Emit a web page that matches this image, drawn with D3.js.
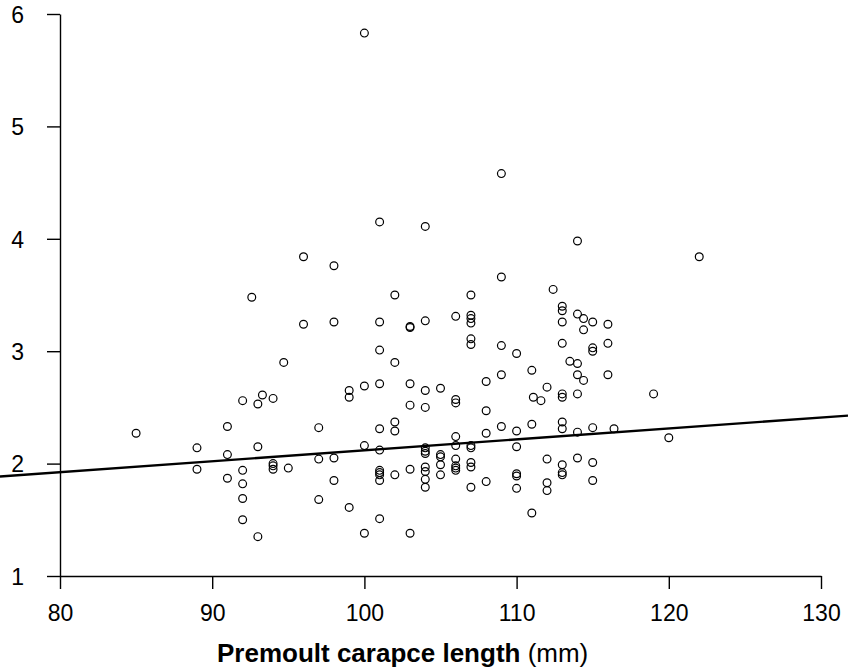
<!DOCTYPE html>
<html>
<head>
<meta charset="utf-8">
<script src="https://cdn.jsdelivr.net/npm/d3@7"></script>
<style>
  html, body { margin: 0; padding: 0; background: #fff; }
  svg { display: block; }
  text { font-family: "Liberation Sans", Arial, sans-serif; fill: #000; }
</style>
</head>
<body>
<svg id="chart" width="848" height="671"></svg>
<script>
// Axis ticks
const xTicks = [80, 90, 100, 110, 120, 130];
const yTicks = [1, 2, 3, 4, 5, 6];

// Premoult carapace length (mm) of each animal
const carapaceLength = [
  100, 109, 101, 104, 114, 122, 96, 98, 109, 112.4, 92.6, 102, 107,
  98, 101, 103, 103, 104, 106, 107, 107, 107, 113, 113, 113, 114, 114.4, 115, 116, 114.4, 96,
  107, 107, 109, 110, 101, 113, 115, 115, 116, 113.5, 114, 94.7, 102, 111, 109, 108, 114, 114.4, 116,
  112, 111.1, 111.6, 113, 113, 114, 119, 99, 99, 100, 101, 103, 104, 105, 106, 106, 103, 104, 108,
  92, 93.3, 94, 93,
  85, 91, 89, 91, 93, 89, 91, 92, 92, 92, 92, 93, 94, 94, 94, 95, 97, 97, 97,
  98, 98, 99, 100, 100, 101, 101, 101, 101, 101, 101, 101, 102, 102, 102, 103, 103,
  104, 104, 104, 104, 104, 104, 104, 105, 105, 105, 105, 106, 106, 106, 106, 106, 106,
  107, 107, 107, 107, 107, 108, 108, 109, 110, 110, 110, 110, 110, 111, 111, 112, 112, 112,
  113, 113, 114, 115, 116.4, 120, 114, 115, 113, 113, 113, 115
];

// Measured response for each animal (same order)
const response = [
  5.83, 4.58, 4.15, 4.11, 3.98, 3.84, 3.84, 3.76, 3.66, 3.55, 3.48, 3.50, 3.50,
  3.26, 3.26, 3.22, 3.21, 3.27, 3.31, 3.32, 3.29, 3.25, 3.40, 3.36, 3.26, 3.33, 3.29, 3.26, 3.24, 3.19, 3.24,
  3.11, 3.06, 3.05, 2.98, 3.01, 3.07, 3.03, 3.00, 3.07, 2.91, 2.89, 2.90, 2.90, 2.83, 2.79, 2.73, 2.79, 2.74, 2.79,
  2.68, 2.59, 2.56, 2.62, 2.59, 2.62, 2.62, 2.65, 2.59, 2.69, 2.71, 2.71, 2.65, 2.67, 2.57, 2.54, 2.52, 2.50, 2.47,
  2.56, 2.61, 2.58, 2.53,
  2.27, 2.33, 2.14, 2.08, 2.15, 1.95, 1.87, 1.94, 1.82, 1.69, 1.50, 1.35, 2.00, 1.98, 1.95, 1.96, 2.32, 2.04, 1.68,
  2.05, 1.85, 1.61, 2.16, 1.38, 2.31, 2.12, 1.94, 1.92, 1.90, 1.85, 1.51, 2.37, 2.29, 1.90, 1.95, 1.38,
  2.14, 2.11, 2.09, 1.97, 1.93, 1.86, 1.79, 2.08, 2.06, 1.99, 1.90, 2.24, 2.16, 2.04, 1.98, 1.96, 1.94,
  2.16, 2.14, 2.01, 1.97, 1.79, 2.27, 1.84, 2.33, 2.29, 2.15, 1.91, 1.89, 1.78, 2.35, 1.56, 2.04, 1.83, 1.76,
  2.37, 2.31, 2.28, 2.32, 2.31, 2.23, 2.05, 2.01, 1.99, 1.92, 1.90, 1.85
];

// Least-squares line: response = intercept + slope * length
const fitIntercept = 1.146;
const fitSlope = 0.00972;

const W = 848, H = 671;
const svg = d3.select("#chart");

const x = d3.scaleLinear().domain([80, 130]).range([60, 821]);
const y = d3.scaleLinear().domain([1, 6]).range([576, 14]);

// x axis
const gx = svg.append("g")
  .attr("transform", `translate(0,${y(1)})`)
  .call(d3.axisBottom(x).tickValues(xTicks).tickSize(13).tickSizeOuter(0).tickPadding(16)
    .tickFormat(d3.format("d")));
gx.selectAll("path, line").attr("stroke", "#000").attr("stroke-width", 1.4);
gx.selectAll("text").attr("font-size", 23).attr("font-family", null);

// y axis
const gy = svg.append("g")
  .attr("transform", `translate(${x(80)},0)`)
  .call(d3.axisLeft(y).tickValues(yTicks).tickSize(13).tickSizeOuter(0).tickPadding(23)
    .tickFormat(d3.format("d")));
gy.selectAll("path, line").attr("stroke", "#000").attr("stroke-width", 1.4);
gy.selectAll("text").attr("font-size", 23).attr("font-family", null).attr("dy", "0.36em");
svg.selectAll(".domain").attr("fill", "none");

// points
const pts = carapaceLength.map((d, i) => [d, response[i]]);
svg.append("g").selectAll("circle")
  .data(pts)
  .join("circle")
  .attr("cx", d => x(d[0]))
  .attr("cy", d => y(d[1]))
  .attr("r", 3.9)
  .attr("fill", "none")
  .attr("stroke", "#000")
  .attr("stroke-width", 1.2);

// fitted line across the full width
const x0 = x.invert(0), x1 = x.invert(W);
svg.append("line")
  .attr("x1", x(x0)).attr("y1", y(fitIntercept + fitSlope * x0))
  .attr("x2", x(x1)).attr("y2", y(fitIntercept + fitSlope * x1))
  .attr("stroke", "#000")
  .attr("stroke-width", 2.4);

// axis title
const title = svg.append("text")
  .attr("x", 217)
  .attr("y", 662)
  .attr("font-size", 26);
title.append("tspan").attr("font-weight", "bold").text("Premoult carapce length");
title.append("tspan").text(" (mm)");
</script>
</body>
</html>
